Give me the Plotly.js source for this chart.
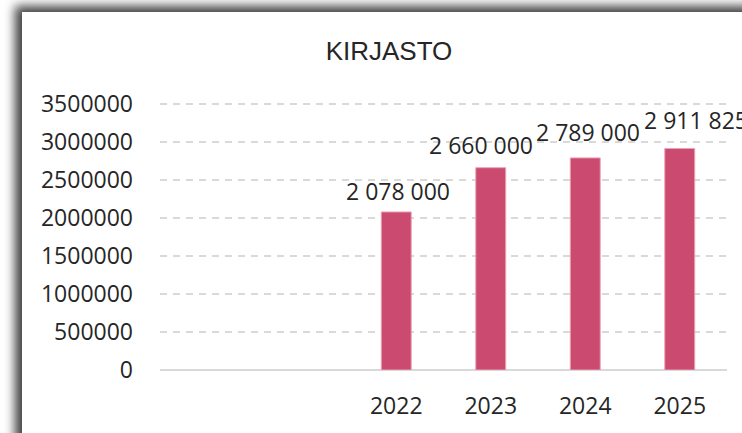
<!DOCTYPE html>
<html>
<head>
<meta charset="utf-8">
<script src="https://cdn.plot.ly/plotly-3.0.1.min.js"></script>
<style>
  html, body { margin: 0; padding: 0; background: #ffffff; width: 742px; height: 433px; overflow: hidden; }
  #frame { position: absolute; left: 22px; top: 12px; width: 900px; height: 600px; background: #ffffff;
           box-shadow: -7px -6px 10px rgba(0,0,0,0.75); }
  #chart { position: absolute; left: 0; top: 0; width: 742px; height: 433px; }
</style>
</head>
<body>
<div id="frame"></div>
<div id="chart"></div>
<script>
// ---- data ----
const years = [2022, 2023, 2024, 2025];
const values = [2078000, 2660000, 2789000, 2911825];
const yTicks = [0, 500000, 1000000, 1500000, 2000000, 2500000, 3000000, 3500000];
const chartTitle = 'KIRJASTO';

// ---- label placement (style only) ----
const labelXShift = [2, -10, 3, 16];
const labelYShift = [21, 23, 26, 29];

function fmt(v) {
  return String(v).replace(/\B(?=(\d{3})+(?!\d))/g, ' ');
}

const textColor = '#262626';
const font = 'Open Sans, Noto Sans, sans-serif';

const trace = {
  type: 'bar',
  x: years,
  y: values,
  width: 0.317,
  marker: { color: '#CB4A6F', line: { color: '#EBA3B6', width: 1 } },
  hoverinfo: 'none'
};

const annotations = years.map((yr, i) => ({
  x: yr, y: values[i], xref: 'x', yref: 'y',
  text: fmt(values[i]), showarrow: false,
  xanchor: 'center', yanchor: 'middle',
  xshift: labelXShift[i], yshift: labelYShift[i],
  font: { family: font, size: 23, color: textColor }
}));

const layout = {
  width: 742, height: 433,
  margin: { l: 160, r: 15, t: 100.2, b: 63, pad: 0 },
  paper_bgcolor: 'rgba(0,0,0,0)',
  plot_bgcolor: 'rgba(0,0,0,0)',
  showlegend: false,
  title: {
    text: chartTitle,
    x: 389 / 742, xref: 'container', xanchor: 'center',
    y: 1 - 51 / 433, yref: 'container', yanchor: 'middle',
    font: { family: 'Liberation Sans, Arial, sans-serif', size: 26, color: textColor }
  },
  xaxis: {
    type: 'linear',
    range: [2019.5, 2025.5],
    tickvals: years,
    ticktext: years.map(String),
    showgrid: false, zeroline: false,
    showline: false, ticks: '',
    ticklabelstandoff: 20,
    tickfont: { family: font, size: 23, color: textColor },
    fixedrange: true
  },
  yaxis: {
    range: [0, 3550000],
    tickvals: yTicks,
    ticktext: yTicks.map(String),
    showgrid: true,
    gridcolor: '#D9D9D9', gridwidth: 1.5, griddash: '7px,6px',
    zeroline: true, zerolinecolor: '#D9D9D9', zerolinewidth: 1.5,
    showline: false, ticks: '',
    ticklabelstandoff: 26,
    tickfont: { family: font, size: 23, color: textColor },
    fixedrange: true
  },
  annotations: annotations
};

Plotly.newPlot('chart', [trace], layout, { displayModeBar: false, staticPlot: true });
</script>
</body>
</html>
